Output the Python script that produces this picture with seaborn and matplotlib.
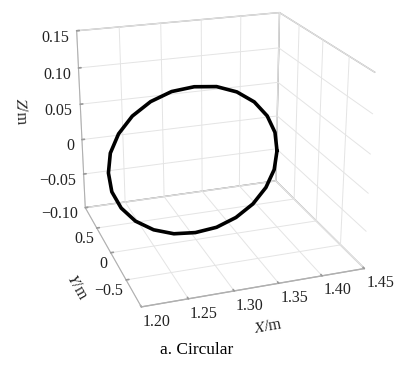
import numpy as np
import matplotlib
matplotlib.use("Agg")
import matplotlib.pyplot as plt
import seaborn as sns

sns.set_theme(style="white")
plt.rcParams['font.family'] = ['Liberation Serif', 'DejaVu Serif']
plt.rcParams['mathtext.fontset'] = 'stix'
plt.rcParams['axes.unicode_minus'] = True

# trajectory points
traj_x = [1.405, 1.402, 1.392, 1.376, 1.355, 1.331, 1.305, 1.279, 1.255, 1.234, 1.218, 1.208,
          1.205, 1.208, 1.218, 1.234, 1.255, 1.279, 1.305, 1.331, 1.355, 1.376, 1.392, 1.402, 1.405]
traj_y = [0.13] * 25
traj_z = [0.000, 0.026, 0.050, 0.071, 0.087, 0.097, 0.100, 0.097, 0.087, 0.071, 0.050, 0.026,
          0.000, -0.026, -0.050, -0.071, -0.087, -0.097, -0.100, -0.097, -0.087, -0.071, -0.050, -0.026, 0.000]

x_ticks = [1.20, 1.25, 1.30, 1.35, 1.40, 1.45]
x_labels = ["1.20", "1.25", "1.30", "1.35", "1.40", "1.45"]
y_ticks = [-0.5, 0, 0.5]
y_labels = ["\u22120.5", "0", "0.5"]
z_ticks = [-0.10, -0.05, 0, 0.05, 0.10, 0.15]
z_labels = ["\u22120.10", "\u22120.05", "0", "0.05", "0.10", "0.15"]

fig = plt.figure(figsize=(3.94, 3.65), dpi=100)
ax = fig.add_axes([0.0373, 0.0852, 1.0, 1.0], projection='3d')
ax.set_proj_type('persp', focal_length=0.5518)
ax.view_init(elev=21.5, azim=-109.24)
ax.set_box_aspect((1.0, 1.0156, 0.8883), zoom=1.004)

ax.plot(traj_x, traj_y, traj_z, color='black', lw=2.6)

ax.set_xlim(1.20, 1.45)
ax.set_ylim(-0.95, 0.95)
ax.set_zlim(-0.10, 0.15)
ax.set_xticks(x_ticks)
ax.set_xticklabels(x_labels)
ax.set_yticks(y_ticks)
ax.set_yticklabels(y_labels)
ax.set_zticks(z_ticks)
ax.set_zticklabels(z_labels)

for axis in (ax.xaxis, ax.yaxis, ax.zaxis):
    axis.set_pane_color((1, 1, 1, 1))
    axis.pane.set_edgecolor('#b0b0b0')
    axis.line.set_color('#b0b0b0')
    axis.line.set_linewidth(0.8)
    axis._axinfo['grid']['color'] = '#e4e4e4'
    axis._axinfo['grid']['linewidth'] = 0.7
    axis._axinfo['tick']['inward_factor'] = 0.0
    axis._axinfo['tick']['outward_factor'] = 0.15
ax.tick_params(labelsize=11.5, color='#9a9a9a', labelcolor='#222222', pad=0)
ax.xaxis.set_tick_params(pad=-5)
ax.yaxis.set_tick_params(pad=-6)
ax.zaxis.set_tick_params(pad=-4)
for t in ax.get_xticklabels():
    t.set_horizontalalignment('left')
for t in ax.get_yticklabels():
    t.set_horizontalalignment('right')
for t in ax.get_zticklabels():
    t.set_horizontalalignment('right')
ax.grid(True)

ax.set_xlabel(r'$\it{X}$/m', fontsize=11.5, labelpad=-3, color='#222222')
ax.set_ylabel(r'$\it{Y}$/m', fontsize=11.5, labelpad=1, color='#222222')
ax.set_zlabel(r'$\it{Z}$/m', fontsize=11.5, labelpad=12, color='#222222')

fig.text(0.5, 0.04, 'a. Circular', ha='center', va='center', fontsize=12.5, color='black')

fig.savefig('out.png', dpi=100)
